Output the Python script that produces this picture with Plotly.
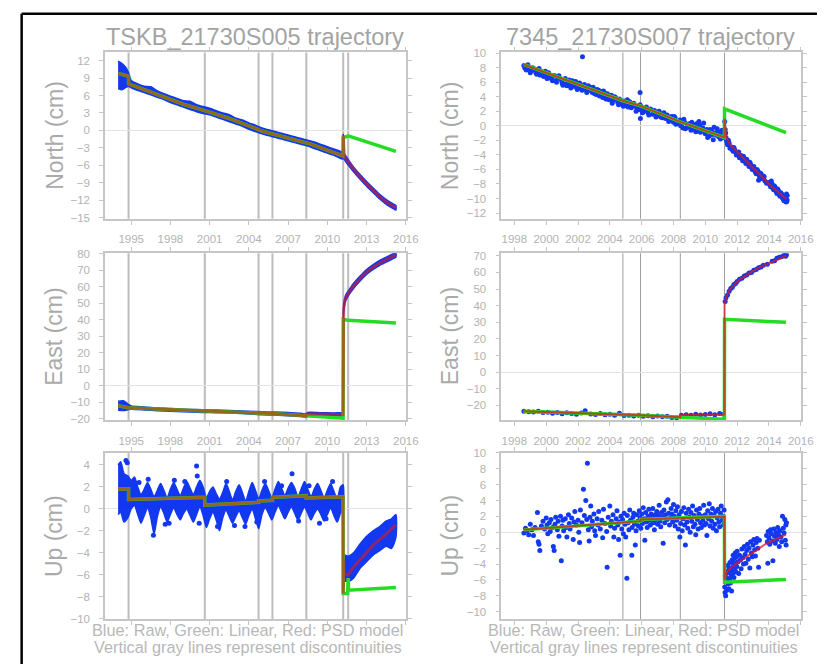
import plotly.graph_objects as go

W, H = 830, 670

# ---------------- data ----------------
disc_left = [1994.80, 2000.63, 2004.74, 2005.80, 2008.39, 2011.21, 2011.59]
disc_right = [2004.82, 2005.93, 2008.43, 2011.21]

# ---- TSKB North ----
ln_band_t = [1994.0, 1994.3, 1994.6, 1994.8, 1995.0, 1995.5, 1996.0, 1996.5, 1997.0, 1997.5,
             1998.0, 1998.5, 1999.0, 1999.5, 2000.0, 2000.5, 2001.0, 2001.5, 2002.0, 2002.5,
             2003.0, 2003.5, 2004.0, 2004.5, 2005.0, 2005.5, 2006.0, 2006.5, 2007.0, 2007.5,
             2008.0, 2008.5, 2009.0, 2009.5, 2010.0, 2010.5, 2011.0, 2011.2]
ln_band_lo = [7.2, 7.0, 7.4, 7.6, 7.3, 6.9, 6.5, 6.1, 5.7, 5.3, 4.8, 4.4, 4.0, 3.6, 3.2, 2.9, 2.7,
              2.3, 1.9, 1.5, 1.1, 0.7, 0.2, -0.2, -0.6, -0.9, -1.2, -1.5, -1.8, -2.1, -2.4, -2.7,
              -3.1, -3.5, -3.9, -4.3, -4.8, -4.9]
ln_band_hi = [11.9, 11.5, 10.8, 9.9, 8.6, 8.0, 7.6, 7.5, 6.8, 6.3, 5.9, 5.5, 5.1, 5.0, 4.4, 4.1,
              3.8, 3.4, 3.0, 2.7, 2.1, 1.8, 1.3, 0.9, 0.4, 0.1, -0.2, -0.5, -0.8, -1.1, -1.4,
              -1.7, -2.0, -2.4, -2.8, -3.2, -3.6, -3.8]
ln_post_t = [2011.21, 2011.25, 2011.3, 2011.5, 2012.0, 2012.5, 2013.0, 2013.5, 2014.0, 2014.5, 2015.0, 2015.24]
ln_post_lo = [-4.6, -4.6, -5.0, -5.7, -7.1, -8.4, -9.6, -10.7, -11.8, -12.7, -13.4, -13.7]
ln_post_hi = [-0.6, -1.6, -4.0, -4.7, -6.3, -7.6, -8.8, -9.9, -11.0, -11.9, -12.6, -12.9]
ln_green_t = [1994.0, 1994.8, 1994.8, 1997.0, 1999.0, 2000.63, 2002.5, 2005.05, 2008.8, 2010.07,
              2011.2, 2011.21, 2011.59, 2015.24]
ln_green_v = [9.8, 9.3, 8.0, 6.2, 4.5, 3.4, 2.05, -0.15, -2.4, -3.46, -4.4, -1.3, -0.95, -3.6]
ln_red_t = [1994.0, 1994.8, 1994.8, 1997.0, 1999.0, 2000.63, 2002.5, 2005.05, 2008.8, 2010.07,
            2011.2, 2011.21, 2011.25, 2011.3, 2011.5, 2012.0, 2012.5, 2013.0, 2013.5, 2014.0,
            2014.5, 2015.0, 2015.24]
ln_red_v = [9.8, 9.3, 8.0, 6.2, 4.5, 3.4, 2.05, -0.15, -2.4, -3.46, -4.4, -0.8, -3.0, -4.5,
            -5.2, -6.7, -8.0, -9.2, -10.3, -11.4, -12.3, -13.0, -13.3]

# ---- TSKB East ----
le_band_t = [1994.0, 1994.4, 1994.8, 1995.0, 1996.0, 1997.0, 1998.0, 1999.0, 2000.0, 2001.0,
             2002.0, 2003.0, 2004.0, 2005.0, 2006.0, 2007.0, 2008.0, 2008.39, 2008.5, 2009.5,
             2010.5, 2011.2]
le_band_lo = [-15.0, -15.2, -14.6, -14.4, -14.8, -15.3, -15.6, -15.9, -16.2, -16.4, -16.5, -16.8,
              -17.2, -17.7, -17.9, -18.4, -18.8, -19.0, -18.2, -18.3, -18.4, -18.4]
le_band_hi = [-9.5, -9.2, -11.5, -12.4, -13.0, -13.6, -13.9, -14.4, -14.5, -14.8, -15.0, -15.3,
              -15.6, -15.9, -16.1, -16.4, -16.8, -17.3, -16.3, -16.5, -16.6, -16.7]
le_post_t = [2011.21, 2011.25, 2011.3, 2011.4, 2011.6, 2012.0, 2012.5, 2013.0, 2013.5, 2014.0,
             2014.5, 2015.0, 2015.24]
le_post_lo = [40.0, 44.0, 48.0, 51.5, 54.5, 59.0, 63.5, 67.5, 70.5, 73.0, 75.0, 77.0, 78.0]
le_post_hi = [43.0, 49.0, 52.0, 55.0, 57.5, 62.0, 66.5, 70.5, 73.5, 76.0, 78.0, 80.0, 80.5]
le_green_t = [1994.0, 1994.8, 1994.8, 2000.63, 2004.74, 2005.8, 2008.39, 2011.2, 2011.21, 2011.59, 2015.24]
le_green_v = [-12.3, -13.0, -13.4, -15.5, -16.5, -17.0, -18.4, -19.8, 40.3, 39.6, 38.0]
le_red_t = [1994.0, 1994.8, 1994.8, 2000.63, 2004.74, 2005.8, 2008.39, 2008.39, 2011.2, 2011.21,
            2011.25, 2011.3, 2011.4, 2011.6, 2012.0, 2012.5, 2013.0, 2013.5, 2014.0, 2014.5,
            2015.0, 2015.24]
le_red_v = [-12.3, -13.0, -13.4, -15.5, -16.5, -17.0, -18.4, -17.3, -17.5, 41.5, 46.5, 50.0,
            53.2, 56.0, 60.5, 65.0, 69.0, 72.0, 74.5, 76.5, 78.5, 79.3]

# ---- TSKB Up ----
lu_band_t = [1994.0, 1994.2, 1994.45, 1994.75, 1995.0,
             1995.25, 1995.5, 1995.75, 1996.0, 1996.25, 1996.5, 1996.75, 1997.0,
             1997.25, 1997.5, 1997.75, 1998.0, 1998.25, 1998.5, 1998.75, 1999.0,
             1999.25, 1999.5, 1999.75, 2000.0, 2000.25, 2000.5, 2000.75, 2001.0,
             2001.25, 2001.5, 2001.75, 2002.0, 2002.25, 2002.5, 2002.75, 2003.0,
             2003.25, 2003.5, 2003.75, 2004.0, 2004.25, 2004.5, 2004.75, 2005.0,
             2005.25, 2005.5, 2005.75, 2006.0, 2006.25, 2006.5, 2006.75, 2007.0,
             2007.25, 2007.5, 2007.75, 2008.0, 2008.25, 2008.5, 2008.75, 2009.0,
             2009.25, 2009.5, 2009.75, 2010.0, 2010.25, 2010.5, 2010.75, 2011.0, 2011.2]
lu_band_hi = [4.0, 4.3, 3.2, 3.0, 2.6,
              2.9, 2.0, 1.3, 1.8, 2.4, 1.8, 1.1, 1.7,
              2.3, 1.7, 1.0, 1.8, 2.4, 1.8, 1.2, 1.9,
              2.5, 1.9, 1.3, 2.0, 2.6, 2.0, 1.0, 1.6,
              2.0, 1.4, 0.9, 1.5, 2.3, 1.6, 0.8, 1.6,
              2.2, 1.5, 0.7, 1.6, 2.4, 1.7, 0.9, 1.7,
              2.3, 1.7, 1.0, 1.8, 2.5, 1.9, 1.2, 1.9,
              2.4, 1.9, 1.1, 1.8, 2.5, 1.8, 1.1, 1.8,
              2.3, 1.7, 1.0, 1.7, 2.3, 1.6, 0.9, 2.0, 2.2]
lu_band_lo = [-0.5, -0.3, -1.2, -0.8, 0.0,
              0.3, -0.5, -1.3, -0.6, 0.1, -0.8, -2.3, -0.7,
              0.2, -0.4, -1.2, -0.5, 0.1, -0.5, -1.0, -0.4,
              0.0, -0.6, -1.2, -0.5, 0.2, -0.6, -1.7, -0.9,
              -0.3, -1.0, -2.0, -0.8, -0.1, -0.7, -1.3, -0.7,
              -0.2, -0.8, -1.4, -0.6, 0.0, -0.9, -1.8, -0.5,
              0.1, -0.4, -1.0, -0.3, 0.3, -0.3, -0.9, -0.3,
              0.2, -0.4, -1.0, -0.4, 0.2, -0.4, -1.0, -0.4,
              0.0, -0.5, -1.1, -0.5, 0.1, -0.6, -1.2, -0.4, 0.0]
lu_out_t = [1994.6, 1994.7, 2000.0, 2000.05, 2007.3, 1996.7, 2000.2, 2009.4, 1995.6, 1996.3,
            1997.9, 1998.3, 1999.1, 2001.6, 2002.3, 2003.7, 2004.6, 2005.2, 2006.5, 2007.8,
            2008.6, 2009.9, 2010.4, 1997.6, 2002.9]
lu_out_v = [4.4, 4.2, 3.9, 3.0, 3.2, -2.4, -1.3, -1.3, 2.4, 2.7, -1.3, 2.6, 2.5, -1.6, 2.5,
            -1.6, -1.2, 2.5, 2.1, -1.1, 2.1, -0.9, 2.5, -1.4, -1.5]
lu_post_t = [2011.21, 2011.3, 2011.6, 2012.0, 2012.5, 2013.0, 2013.5, 2014.0, 2014.5, 2014.9, 2015.24]
lu_post_lo = [-7.8, -6.6, -6.6, -6.3, -5.4, -4.8, -4.2, -3.8, -3.4, -3.6, -2.6]
lu_post_hi = [-7.4, -4.2, -4.3, -4.0, -3.2, -2.5, -2.0, -1.6, -1.1, -0.9, -0.5]
lu_green_t = [1994.0, 1994.8, 1994.8, 2000.63, 2000.63, 2004.74, 2004.74, 2005.8, 2005.8, 2008.39,
              2008.39, 2011.2, 2011.21, 2011.55, 2011.59, 2011.62, 2015.24]
lu_green_v = [1.8, 1.8, 0.85, 1.05, 0.35, 0.6, 0.72, 0.78, 1.05, 1.2, 1.0, 1.1, -7.7, -7.7, -6.3, -7.4, -7.15]
lu_red_t = [1994.0, 1994.8, 1994.8, 2000.63, 2000.63, 2004.74, 2004.74, 2005.8, 2005.8, 2008.39,
            2008.39, 2011.2, 2011.21, 2011.25, 2011.3, 2011.59, 2012.0, 2012.5, 2013.0, 2013.5,
            2014.0, 2014.5, 2015.0, 2015.24]
lu_red_v = [1.8, 1.8, 0.85, 1.05, 0.35, 0.6, 0.72, 0.78, 1.05, 1.2, 1.0, 1.1, -7.7, -4.6, -5.9,
            -6.0, -5.3, -4.6, -3.9, -3.3, -2.8, -2.3, -1.7, -1.45]

# ---- 7345 North ----
rn_raw_t = [1998.6, 1998.7, 1998.8, 1998.95, 1999.1, 1999.2, 1999.35, 1999.5, 1999.6, 1999.75,
            1999.85, 2000.0, 2000.1, 2000.2, 2000.35, 2000.45, 2000.6, 2000.7, 2000.85, 2001.0,
            2001.1, 2001.25, 2001.4, 2001.5, 2001.65, 2001.8, 2001.9, 2002.05, 2002.2, 2002.28,
            2002.35, 2002.5, 2002.6, 2002.75, 2002.9, 2003.0, 2003.15, 2003.3, 2003.4, 2003.55,
            2003.7, 2003.8, 2003.95, 2004.1, 2004.2, 2004.35, 2004.5, 2004.6, 2004.75, 2004.9,
            2005.0, 2005.1, 2005.2, 2005.9, 2005.35, 2005.45, 2005.92, 2005.6, 2005.75, 2005.9,
            2006.0, 2006.15, 2006.3, 2006.4, 2006.55, 2006.7, 2006.8, 2006.95, 2007.1, 2007.2,
            2007.35, 2007.5, 2007.6, 2007.75, 2007.9, 2008.0, 2008.1, 2008.25, 2008.4, 2008.5,
            2008.6, 2008.7, 2008.85, 2009.0, 2009.1, 2009.25, 2009.4, 2009.5, 2009.6, 2009.7,
            2009.85, 2010.0, 2010.1, 2010.25, 2010.4, 2010.5, 2010.6, 2010.75, 2010.85, 2011.0,
            2011.1, 2011.18,
            1998.65, 1998.75, 1998.85, 1999.0, 1999.15, 1999.3, 1999.4, 1999.55, 1999.65, 1999.8,
            1999.95, 2000.05, 2000.15, 2000.3, 2000.4, 2000.55, 2000.65, 2000.8, 2000.95, 2001.05,
            2001.2, 2001.3, 2001.45, 2001.55, 2001.7, 2001.85, 2001.95, 2002.1, 2002.25, 2002.4,
            2002.55, 2002.65, 2002.8, 2002.95, 2003.05, 2003.2, 2003.35, 2003.45, 2003.6, 2003.75,
            2003.85, 2004.0, 2004.15, 2004.3, 2004.45, 2004.55, 2004.7, 2004.85, 2004.95, 2005.05,
            2005.15, 2005.25, 2005.4, 2005.5, 2005.65, 2005.7, 2005.85, 2005.95, 2006.05, 2006.2,
            2006.35, 2006.45, 2006.6, 2006.75, 2006.9, 2007.0, 2007.15, 2007.3, 2007.4, 2007.55,
            2007.7, 2007.8, 2007.95, 2008.05, 2008.15, 2008.3, 2008.45, 2008.55, 2008.65, 2008.75,
            2008.9, 2009.05, 2009.15, 2009.3, 2009.45, 2009.55, 2009.65, 2009.8, 2009.9, 2010.05,
            2010.15, 2010.3, 2010.45, 2010.55, 2010.7, 2010.8, 2010.95, 2011.05, 2011.15,
            2011.22, 2011.25, 2011.3, 2011.35, 2011.4, 2011.5, 2011.55, 2011.65, 2011.75, 2011.85,
            2011.95, 2012.05, 2012.15, 2012.25, 2012.35, 2012.45, 2012.55, 2012.65, 2012.75,
            2012.85, 2012.95, 2013.05, 2013.15, 2013.25, 2013.35, 2013.45, 2013.55, 2013.65,
            2013.95, 2014.05, 2014.15, 2014.25, 2014.35, 2014.45, 2014.55, 2014.65, 2014.75,
            2014.85, 2014.95, 2015.05, 2015.12, 2015.15,
            2011.28, 2011.32, 2011.38, 2011.45, 2011.6, 2011.7, 2011.8, 2011.9, 2012.0, 2012.1,
            2012.2, 2012.3, 2012.4, 2012.5, 2012.6, 2012.7, 2012.8, 2012.9, 2013.0, 2013.1,
            2013.2, 2013.3, 2013.4, 2013.5, 2013.6, 2013.7, 2013.75, 2013.85, 2014.0, 2014.1,
            2014.2, 2014.3, 2014.4, 2014.5, 2014.6, 2014.7, 2014.8, 2014.9, 2015.0, 2015.08,
            2015.1, 2015.14]
rn_raw_v = [8.3, 7.9, 8.2, 7.8, 7.6, 7.9, 7.3, 7.6, 7.0, 7.4, 6.8, 7.2, 6.6, 7.0, 6.4, 6.9, 6.2,
            6.7, 6.5, 5.9, 6.4, 5.8, 6.0, 5.5, 6.2, 5.4, 5.7, 5.2, 5.6, 9.5, 5.0, 5.4, 4.8, 5.3,
            4.6, 5.0, 4.3, 4.9, 4.4, 3.9, 4.5, 4.0, 3.6, 4.2, 3.5, 3.9, 3.2, 3.7, 3.0, 3.4, 2.8,
            3.6, 2.9, 4.6, 2.5, 3.0, 1.0, 2.7, 2.3, 2.9, 2.4, 2.0, 2.6, 1.8, 2.3, 1.6, 2.1, 1.4,
            2.0, 1.2, 1.7, 1.0, 1.5, 0.8, 1.3, 0.5, 1.1, 0.3, 0.8, 0.1, -0.3, 0.5, -0.2, 0.3,
            -0.6, 0.1, -0.8, -0.2, 0.6, -0.9, -0.3, -1.1, -0.5, -1.4, -0.7, -1.9, -1.0, -0.4,
            -1.5, -1.2, -0.9, -1.6,
            8.0, 7.7, 8.4, 7.3, 8.0, 7.8, 7.1, 7.9, 7.5, 6.9, 7.5, 6.5, 7.3, 6.8, 6.2, 6.9, 6.0,
            6.9, 6.3, 5.6, 6.5, 5.5, 6.3, 5.2, 5.8, 6.1, 5.0, 5.9, 4.9, 5.7, 4.6, 5.5, 4.9, 5.3,
            4.4, 5.0, 4.1, 4.7, 4.8, 3.7, 4.4, 3.8, 3.1, 4.0, 3.6, 2.9, 3.5, 2.7, 3.3, 3.2, 2.6,
            3.3, 2.7, 3.1, 2.0, 2.6, 2.2, 2.7, 1.8, 2.4, 2.1, 1.5, 2.2, 1.9, 1.2, 1.9, 1.5, 1.1,
            1.8, 1.3, 0.6, 1.2, 0.9, 1.3, 0.2, 0.6, 0.0, 0.7, 0.9, -0.4, 0.2, -0.2, 0.5, -0.5,
            0.3, -0.7, 0.1, -0.6, 0.4, -0.8, -1.6, -0.5, -1.2, -0.2, -1.3, -0.8, -1.8, -0.6, -1.3,
            0.6, -0.5, -1.6, -2.1, -2.6, -2.4, -3.1, -2.9, -3.5, -3.3, -4.0, -3.7, -4.4, -4.1,
            -4.8, -4.5, -5.2, -4.9, -5.6, -5.3, -6.0, -5.6, -6.4, -6.0, -7.5, -6.5, -7.2, -6.9,
            -7.8, -8.1, -7.6, -8.6, -8.3, -9.0, -8.7, -9.5, -9.2, -9.9, -10.3, -10.0, -10.4, -9.6,
            -1.0, -1.9, -2.4, -2.0, -3.0, -3.3, -3.0, -3.6, -3.9, -3.6, -4.3, -4.5, -4.2, -4.9,
            -4.6, -5.3, -5.0, -5.7, -5.9, -6.1, -6.6, -6.2, -6.9, -6.6, -7.3, -7.0, -7.6, -7.9,
            -7.8, -8.4, -8.0, -8.8, -8.5, -9.3, -8.9, -9.7, -9.4, -10.1, -9.8, -10.5, -9.4, -10.2]
rn_green_t = [1998.57, 2004.82, 2005.93, 2008.43, 2011.2, 2011.21, 2015.07]
rn_green_v = [8.45, 3.45, 2.75, 0.55, -1.6, 2.34, -0.95]
rn_red_t = [1998.57, 2004.82, 2005.93, 2008.43, 2011.2, 2011.21, 2011.3, 2011.45, 2011.66,
            2012.0, 2012.5, 2013.3, 2014.1, 2015.07]
rn_red_v = [8.45, 3.45, 2.75, 0.55, -1.6, 1.0, -1.3, -2.2, -2.84, -3.6, -4.65, -6.45, -8.2, -10.05]

# ---- 7345 East ----
re_raw_t = [1998.6, 1998.9, 1999.2, 1999.5, 1999.8, 2000.1, 2000.4, 2000.7, 2001.0, 2001.3,
            2001.6, 2001.9, 2002.2, 2002.45, 2002.8, 2003.1, 2003.4, 2003.7, 2004.0, 2004.3,
            2004.6, 2004.9, 2005.2, 2005.5, 2005.8, 2006.1, 2006.4, 2006.7, 2007.0, 2007.3,
            2007.6, 2007.9, 2008.2, 2008.5, 2008.8, 2009.1, 2009.4, 2009.7, 2010.0, 2010.3,
            2010.6, 2010.9, 2011.15,
            2011.25, 2011.3, 2011.4, 2011.5, 2011.6, 2011.7, 2011.8, 2011.9, 2012.0, 2012.15,
            2012.3, 2012.45, 2012.6, 2012.75, 2012.9, 2013.05, 2013.2, 2013.35, 2013.5, 2013.65,
            2013.9, 2014.2, 2014.35, 2014.5, 2014.65, 2014.8, 2014.95, 2015.05, 2015.1]
re_raw_v = [-23.5, -23.9, -24.0, -23.6, -24.3, -24.1, -24.8, -24.3, -25.1, -24.5, -24.9, -25.3,
            -24.6, -23.2, -25.2, -25.5, -24.9, -25.6, -25.3, -25.9, -24.8, -26.1, -25.9, -26.4,
            -26.0, -26.5, -26.2, -26.8, -26.4, -26.9, -26.6, -27.3, -27.5, -26.0, -25.6, -25.9,
            -25.4, -25.8, -25.5, -25.1, -25.6, -24.9, -25.4,
            42.5, 44.8, 46.5, 48.7, 50.3, 51.1, 52.8, 53.4, 54.6, 55.9, 56.5, 57.8, 58.4, 59.6,
            60.0, 61.3, 61.8, 62.9, 63.3, 64.4, 65.0, 66.8, 67.0, 68.6, 69.1, 69.5, 70.4, 69.8, 70.6]
re_green_t = [1998.57, 2004.82, 2005.93, 2008.43, 2011.2, 2011.21, 2015.07]
re_green_v = [-23.6, -25.3, -26.0, -27.2, -28.3, 31.8, 30.0]
re_red_t = [1998.57, 2004.82, 2005.93, 2008.43, 2008.43, 2011.2, 2011.21, 2011.3, 2011.5, 2011.8,
            2012.2, 2012.7, 2013.2, 2013.7, 2014.2, 2014.7, 2015.07]
re_red_v = [-23.6, -25.3, -26.0, -27.2, -25.8, -25.5, 40.0, 45.0, 49.0, 52.5, 56.0, 59.0, 62.0,
            64.3, 66.5, 68.5, 70.0]

# ---- 7345 Up ----
ru_raw_t = [1998.6, 1998.7, 1998.8, 1998.9, 1999.0, 1999.1, 1999.2, 1999.3, 1999.45, 1999.5,
            1999.55, 1999.6, 1999.7, 1999.8, 1999.9, 2000.0, 2000.05, 2000.1, 2000.2, 2000.25,
            2000.3, 2000.4, 2000.45, 2000.5, 2000.55, 2000.6, 2000.7, 2000.75, 2000.8, 2000.9,
            2000.95, 2001.0, 2001.05, 2001.1, 2001.2, 2001.25, 2001.3, 2001.4, 2001.45, 2001.5,
            2001.6, 2001.7, 2001.75, 2001.8, 2001.9, 2002.0, 2002.05, 2002.1, 2002.15, 2002.25,
            2002.34, 2002.4, 2002.49, 2002.55, 2002.59, 2002.65, 2002.7, 2002.75, 2002.8, 2002.85,
            2002.9, 2003.0, 2003.05, 2003.1, 2003.2, 2003.25, 2003.3, 2003.4, 2003.5, 2003.55,
            2003.6, 2003.7, 2003.8, 2003.83, 2003.9, 2004.0, 2004.05, 2004.1, 2004.2, 2004.25,
            2004.3, 2004.4, 2004.45, 2004.5, 2004.55, 2004.6, 2004.65, 2004.7, 2004.75, 2004.8,
            2004.85, 2004.9, 2004.95, 2005.0, 2005.07, 2005.1, 2005.15, 2005.2, 2005.25, 2005.3,
            2005.38, 2005.4, 2005.45, 2005.5, 2005.55, 2005.6, 2005.65, 2005.7, 2005.75, 2005.8,
            2005.85, 2005.9, 2005.95, 2006.0, 2006.05, 2006.1, 2006.15, 2006.2, 2006.25, 2006.3,
            2006.35, 2006.4, 2006.45, 2006.5, 2006.55, 2006.6, 2006.65, 2006.7, 2006.75, 2006.8,
            2006.85, 2006.9, 2006.95, 2007.0, 2007.05, 2007.1, 2007.15, 2007.2, 2007.25, 2007.3,
            2007.35, 2007.4, 2007.45, 2007.5, 2007.55, 2007.6, 2007.65, 2007.7, 2007.75, 2007.8,
            2007.85, 2007.9, 2007.95, 2008.0, 2008.05, 2008.1, 2008.15, 2008.2, 2008.25, 2008.3,
            2008.35, 2008.4, 2008.45, 2008.5, 2008.55, 2008.6, 2008.65, 2008.7, 2008.75, 2008.8,
            2008.85, 2008.9, 2008.95, 2009.0, 2009.05, 2009.1, 2009.15, 2009.2, 2009.25, 2009.3,
            2009.35, 2009.4, 2009.45, 2009.5, 2009.55, 2009.6, 2009.65, 2009.7, 2009.75, 2009.8,
            2009.85, 2009.9, 2009.95, 2010.0, 2010.05, 2010.1, 2010.15, 2010.2, 2010.25, 2010.3,
            2010.35, 2010.4, 2010.45, 2010.5, 2010.55, 2010.6, 2010.65, 2010.7, 2010.75, 2010.8,
            2010.85, 2010.9, 2010.95, 2011.0, 2011.05, 2011.1, 2011.15, 2011.18]
ru_raw_v = [-0.1, 0.5, 0.2, -0.3, 1.0, 0.3, -0.4, 0.6, 2.5, -1.2, -1.5, -2.3, 0.8, 1.4, 0.4, 1.8,
            0.9, -0.2, 1.2, 0.1, 1.6, 0.6, -1.8, -2.3, 1.0, 1.9, 0.3, 1.4, -0.5, 2.0, -3.6, 0.8,
            1.5, 0.2, 1.7, 0.6, -0.6, 2.2, 1.1, 0.4, 1.8, -0.9, 1.3, 2.6, 0.9, 1.5, 0.0, -1.3,
            2.8, 1.2, 5.4, 2.1, 4.0, 1.6, 8.7, 0.3, -1.1, 1.9, 3.3, 0.7, 1.4, 2.3, 0.2, -0.4, 1.7,
            0.9, 2.6, 0.4, 1.5, -0.7, 2.9, 1.1, 0.1, -4.4, 1.9, 3.3, 0.8, 1.4, 2.2, -0.6, 0.5, 1.7,
            2.7, 0.9, -0.9, 1.3, -2.9, 2.0, 0.4, 1.6, -0.2, 2.4, 1.0, -0.6, -5.8, 2.1, 1.2, 0.3,
            2.8, 1.5, -2.9, 0.6, 1.9, 2.4, 1.0, -1.6, 0.2, 2.2, 1.4, 0.8, 2.7, 1.8, 0.5, 2.3, 1.1,
            3.1, 1.7, -1.0, 2.5, 1.3, 0.6, 2.0, 2.9, 1.5, 0.9, 2.3, 1.8, 3.0, 1.2, 0.3, 2.2, 1.6,
            2.6, 1.0, 2.1, 3.4, 1.4, 0.7, 2.5, 1.9, -1.4, 2.8, 1.2, 2.2, 3.8, 1.6, 4.1, 2.4, 0.9,
            1.8, 3.0, 2.3, 1.3, 3.5, 2.0, 0.8, 2.7, 1.5, 3.2, 0.4, 2.2, -0.6, 1.1, 2.6, 0.2, 1.7,
            3.1, 0.9, -1.6, 2.4, 1.3, 0.5, 2.9, 1.9, 0.0, 2.5, 1.4, 3.3, 0.7, 2.1, 1.0, -0.3, 2.8,
            1.6, 0.4, 2.3, 3.0, 1.2, 0.6, 2.0, 1.5, 3.4, 0.9, 2.2, 1.1, -0.4, 2.7, 1.7, 3.6, 0.8,
            2.3, 1.4, 3.0, 0.5, 2.1, 1.0, 2.6, 0.2, 1.8, 2.9, 1.3, 0.7, 2.4, 3.3, 1.5, 2.0, 0.9, 2.8]
ru_post_t = [2011.22, 2011.24, 2011.26, 2011.28, 2011.3, 2011.33, 2011.35, 2011.38, 2011.4,
             2011.43, 2011.45, 2011.48, 2011.5, 2011.53, 2011.55, 2011.58, 2011.6, 2011.63,
             2011.65, 2011.68, 2011.7, 2011.73, 2011.75, 2011.78, 2011.8, 2011.83, 2011.85,
             2011.88, 2011.9, 2011.93, 2011.95, 2011.98, 2012.0, 2012.05, 2012.1, 2012.15,
             2012.2, 2012.25, 2012.3, 2012.35, 2012.4, 2012.45, 2012.5, 2012.55, 2012.6,
             2012.65, 2012.7, 2012.75, 2012.8, 2012.85, 2012.9, 2012.95, 2013.0, 2013.05,
             2013.1, 2013.15, 2013.2, 2013.25, 2013.3, 2013.35, 2013.4, 2013.85, 2013.9,
             2013.93, 2013.95, 2014.0, 2014.05, 2014.1, 2014.15, 2014.2, 2014.25, 2014.3,
             2014.35, 2014.4, 2014.45, 2014.5, 2014.55, 2014.6, 2014.65, 2014.7, 2014.75,
             2014.8, 2014.85, 2014.9, 2014.95, 2015.0, 2015.03, 2015.06, 2015.08, 2015.1]
ru_post_v = [-6.9, -7.6, -5.5, -8.0, -6.2, -4.9, -7.3, -5.8, -4.2, -6.5, -5.1, -7.1, -4.6, -5.9,
             -3.8, -6.4, -4.9, -5.5, -7.4, -3.5, -4.4, -5.2, -2.9, -4.0, -5.7, -3.3, -4.7, -2.6,
             -3.9, -5.0, -3.1, -4.3, -2.4, -3.7, -5.2, -2.9, -3.5, -4.6, -2.1, -3.2, -4.0, -1.8,
             -2.8, -3.9, -2.3, -1.5, -3.4, -2.0, -4.5, -1.2, -2.6, -3.1, -1.6, -0.9, -2.2, -3.0,
             -1.3, -0.8, -2.0, -4.4, -1.0, -0.4, -1.2, -3.9, 0.1, -0.7, -1.5, 0.3, -0.2, -1.1,
             -3.6, 0.4, -0.5, -1.4, 0.0, -0.9, 0.6, -0.3, -1.8, 0.2, -0.6, -1.2, 2.0, 0.5, -0.1,
             1.6, -1.0, 0.9, -1.6, 1.2]
ru_green_t = [1998.6, 2005.93, 2005.93, 2011.2, 2011.21, 2015.07]
ru_green_v = [0.3, 1.4, 1.6, 2.0, -6.3, -5.95]
ru_red_t = [1998.6, 2005.93, 2005.93, 2008.43, 2011.2, 2011.21, 2011.35, 2011.7, 2012.2, 2012.7,
            2013.2, 2013.7, 2014.2, 2014.7, 2015.07]
ru_red_v = [0.3, 1.4, 1.6, 1.8, 1.95, -6.0, -5.0, -4.3, -3.6, -2.9, -2.2, -1.6, -1.1, -0.6, -0.3]

titles = ["TSKB_21730S005 trajectory", "7345_21730S007 trajectory"]
ytitles = ["North (cm)", "East (cm)", "Up (cm)"]
caption = ["Blue: Raw, Green: Linear, Red: PSD model",
           "Vertical gray lines represent discontinuities"]

# ---------------- layout geometry (pixels) ----------------
col_x = [(106.7, 412.3), (509.3, 813.5)]
row_y = [(47.3, 216.7), (251.7, 421.7), (455.0, 624.3)]
xranges = [[1993.0, 2016.0], [1997.18, 2016.0]]
yranges = {(0, 0): [-15.2, 13.4], (1, 0): [-21.0, 80.4], (2, 0): [-10.03, 5.1],
           (0, 1): [-12.8, 10.1], (1, 1): [-28.9, 71.6], (2, 1): [-10.94, 10.0]}
ydticks = {(0, 0): 3, (1, 0): 10, (2, 0): 2, (0, 1): 2, (1, 1): 10, (2, 1): 2}

BLUE = "#1238f0"
GREEN = "#25dc25"
RED = "#e01a1a"
TICKC = "#b3b3b3"
LINEC = "#c6c6c6"
FONT = "Liberation Sans, Arial, sans-serif"

fig = go.Figure()
layout = dict(width=W, height=H, autosize=False, margin=dict(l=0, r=0, t=0, b=0),
              paper_bgcolor="white", plot_bgcolor="white", showlegend=False,
              shapes=[], annotations=[])


def px(x):
    return x / W


def py(y):
    return 1 - y / H


idx = 0
axes_of = {}
for r in range(3):
    for c in range(2):
        idx += 1
        xa = "xaxis" if idx == 1 else f"xaxis{idx}"
        ya = "yaxis" if idx == 1 else f"yaxis{idx}"
        xr = "x" if idx == 1 else f"x{idx}"
        yr = "y" if idx == 1 else f"y{idx}"
        axes_of[(r, c)] = (xr, yr)
        common = dict(showline=True, mirror="ticks", linecolor=LINEC, linewidth=1.5,
                      ticks="outside", ticklen=4, tickcolor=LINEC, tickwidth=1,
                      showgrid=False, tickfont=dict(family=FONT, size=11.5, color=TICKC))
        layout[xa] = dict(common, domain=[px(col_x[c][0]), px(col_x[c][1])],
                          range=xranges[c], anchor=yr, tickmode="linear",
                          tick0=1995 if c == 0 else 1998, dtick=3 if c == 0 else 2,
                          zeroline=False, ticklabelstandoff=5,
                          showticklabels=(r != 2))
        layout[ya] = dict(common, domain=[py(row_y[r][1]), py(row_y[r][0])],
                          range=yranges[(r, c)], anchor=xr, tickmode="linear", tick0=0,
                          dtick=ydticks[(r, c)], zeroline=True, zerolinecolor="#e3e3e3",
                          zerolinewidth=1, ticklabelstandoff=7)
        for d in (disc_left if c == 0 else disc_right):
            layout["shapes"].append(dict(type="line", xref=xr, yref=f"{yr} domain",
                                         x0=d, x1=d, y0=0, y1=1, layer="below",
                                         line=dict(color="#bdbdbd" if c == 0 else "#9e9e9e",
                                                   width=2 if c == 0 else 1)))


def band(t, lo, hi, key):
    xr, yr = axes_of[key]
    fig.add_trace(go.Scatter(x=list(t) + list(t)[::-1], y=list(hi) + list(lo)[::-1],
                             xaxis=xr, yaxis=yr, mode="lines", fill="toself",
                             fillcolor=BLUE, line=dict(color=BLUE, width=1.5, shape="spline",
                                                       smoothing=0.6),
                             hoverinfo="skip"))


def dots(t, v, key, size=5):
    xr, yr = axes_of[key]
    fig.add_trace(go.Scatter(x=t, y=v, xaxis=xr, yaxis=yr, mode="markers",
                             marker=dict(color=BLUE, size=size, line=dict(width=0))))


def models(gt, gv, rt, rv, key, gw=3.5, rw=2.2, rop=0.75):
    xr, yr = axes_of[key]
    fig.add_trace(go.Scatter(x=gt, y=gv, xaxis=xr, yaxis=yr, mode="lines",
                             line=dict(color=GREEN, width=gw)))
    fig.add_trace(go.Scatter(x=rt, y=rv, xaxis=xr, yaxis=yr, mode="lines", opacity=rop,
                             line=dict(color=RED, width=rw)))


# TSKB
band(ln_band_t, ln_band_lo, ln_band_hi, (0, 0))
band(ln_post_t, ln_post_lo, ln_post_hi, (0, 0))
models(ln_green_t, ln_green_v, ln_red_t, ln_red_v, (0, 0), rw=3, rop=0.6)
band(le_band_t, le_band_lo, le_band_hi, (1, 0))
band(le_post_t, le_post_lo, le_post_hi, (1, 0))
models(le_green_t, le_green_v, le_red_t, le_red_v, (1, 0), rw=3, rop=0.6)
band(lu_band_t, lu_band_lo, lu_band_hi, (2, 0))
band(lu_post_t, lu_post_lo, lu_post_hi, (2, 0))
dots(lu_out_t, lu_out_v, (2, 0), size=5)
models(lu_green_t, lu_green_v, lu_red_t, lu_red_v, (2, 0), rw=3, rop=0.6)
# 7345
dots(rn_raw_t, rn_raw_v, (0, 1))
models(rn_green_t, rn_green_v, rn_red_t, rn_red_v, (0, 1), gw=3.5, rw=2.0, rop=0.75)
dots(re_raw_t, re_raw_v, (1, 1))
models(re_green_t, re_green_v, re_red_t, re_red_v, (1, 1), gw=3.5, rw=2.0, rop=0.75)
dots(ru_raw_t, ru_raw_v, (2, 1))
dots(ru_post_t, ru_post_v, (2, 1))
models(ru_green_t, ru_green_v, ru_red_t, ru_red_v, (2, 1), gw=3.5, rw=2.0, rop=0.75)

for cx, t in zip([259.0, 661.0], titles):
    layout["annotations"].append(dict(text=t, x=px(cx), y=py(32), xref="paper", yref="paper",
                                      xanchor="center", yanchor="middle", showarrow=False,
                                      font=dict(family=FONT, size=23.5, color="#a3a3a3")))
for r in range(3):
    cy = (row_y[r][0] + row_y[r][1]) / 2
    for cx in [55.0, 456.7]:
        layout["annotations"].append(dict(text=ytitles[r], x=px(cx), y=py(cy), xref="paper",
                                          yref="paper", xanchor="center", yanchor="middle",
                                          textangle=-90, showarrow=False,
                                          font=dict(family=FONT, size=23, color="#aaaaaa")))
for cx in [251.7, 654.0]:
    for line, yy in zip(caption, [635.2, 652.8]):
        layout["annotations"].append(dict(text=line, x=px(cx), y=py(yy), xref="paper",
                                          yref="paper", xanchor="center", yanchor="middle",
                                          showarrow=False,
                                          font=dict(family=FONT, size=16.3, color="#b8b8b8")))
layout["shapes"].append(dict(type="line", xref="paper", yref="paper", x0=px(22), x1=px(22),
                             y0=0, y1=py(7.8), line=dict(color="black", width=2.5)))
layout["shapes"].append(dict(type="line", xref="paper", yref="paper", x0=px(22), x1=1.0,
                             y0=py(7.8), y1=py(7.8), line=dict(color="black", width=2.5)))

fig.update_layout(**layout)
fig.write_html("out.html")
